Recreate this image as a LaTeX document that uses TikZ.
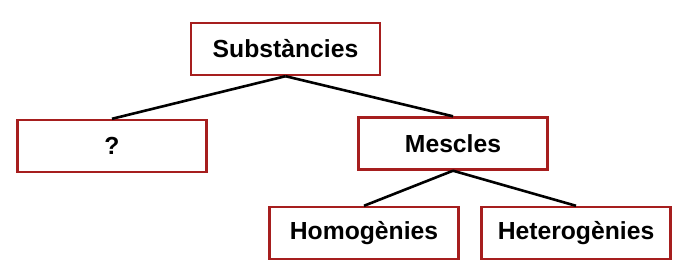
\documentclass[tikz,border=0pt]{standalone}
\usepackage{fontspec}
\setmainfont{Liberation Sans}
\usepackage{xcolor}
\definecolor{boxred}{HTML}{A61E1E}
\definecolor{linkblack}{HTML}{000000}

\begin{document}
\begin{tikzpicture}[x=1pt, y=-1pt,
  classbox/.style={draw=boxred, line width=2.4pt, fill=white,
    minimum width=189pt, minimum height=52pt, inner sep=0pt,
    font=\fontsize{24.7}{29}\selectfont\bfseries},
  branch/.style={draw=linkblack, line width=2.6pt}]

% === Wymiary ===
\useasboundingbox (0,0) rectangle (682,274);
\fill[white] (0,0) rectangle (682,274);

% === Pudełka ===
\node[classbox] (subst) at (285.5, 49) {Substàncies};
\node[classbox] (unknown) at (112, 146) {?};
\node[classbox] (mescles) at (453, 143.5) {Mescles};
\node[classbox] (homog) at (364, 233) {Homogènies};
\node[classbox] (heterog) at (576, 233) {Heterogènies};

% === Gałęzie ===
\draw[branch] (subst.south) -- (unknown.north);
\draw[branch] (subst.south) -- (mescles.north);
\draw[branch] (mescles.south) -- (homog.north);
\draw[branch] (mescles.south) -- (heterog.north);

\end{tikzpicture}
\end{document}
